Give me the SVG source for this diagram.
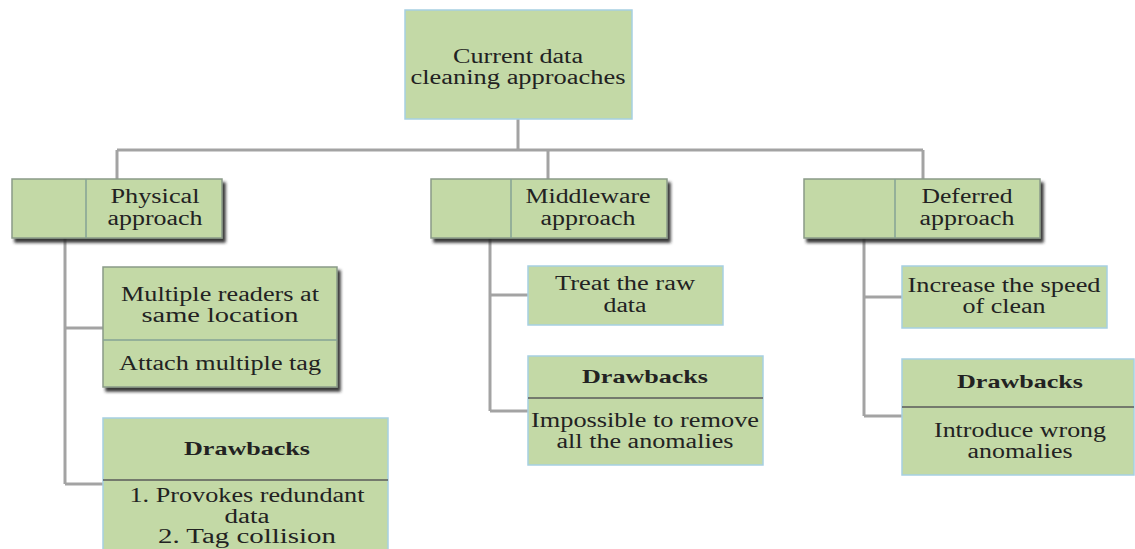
<svg xmlns="http://www.w3.org/2000/svg" width="1135" height="549" viewBox="0 0 1135 549">
<defs>
<filter id="sh" x="-10%" y="-10%" width="130%" height="140%">
<feDropShadow dx="3" dy="4" stdDeviation="1.8" flood-color="#222" flood-opacity="0.9"/>
</filter>
<style>
.box{fill:#c3d9a6;stroke:#a6d0e2;stroke-width:1.5}
.sbox{fill:#c3d9a6;stroke:#8a9a88;stroke-width:1.5;filter:url(#sh)}
.div{stroke:#5a5a5a;stroke-width:1.5}
.vdiv{stroke:#84a294;stroke-width:1.5}
.con{stroke:#a3a3a3;stroke-width:3;fill:none}
text{font-family:"Liberation Serif","Times New Roman",serif;font-size:20px;fill:#222;text-anchor:middle}
.b{font-weight:bold;font-size:19px}
</style>
</defs>
<rect width="1135" height="549" fill="#fff"/>
<g id="connectors">
<path class="con" d="M518,119 V150 M117,150 H923 M117,150 V179 M548,150 V179 M923,150 V179"/>
<path class="con" d="M65,238 V484 M65,328 H103 M65,484 H103"/>
<path class="con" d="M490,238 V411 M490,295 H528 M490,411 H528"/>
<path class="con" d="M864,238 V416 M864,297 H902 M864,416 H902"/>
</g>
<g id="root">
<rect class="box" x="405" y="10" width="227" height="109"/>
<text x="518" y="63" textLength="130" lengthAdjust="spacingAndGlyphs">Current data</text>
<text x="518" y="84" textLength="215" lengthAdjust="spacingAndGlyphs">cleaning approaches</text>
</g>
<g id="physical">
<rect class="sbox" x="12" y="179" width="210" height="59"/>
<line class="vdiv" x1="86" y1="179" x2="86" y2="238"/>
<text x="155" y="203" textLength="89" lengthAdjust="spacingAndGlyphs">Physical</text>
<text x="155" y="225" textLength="95" lengthAdjust="spacingAndGlyphs">approach</text>
</g>
<g id="middleware">
<rect class="sbox" x="431" y="179" width="236" height="59"/>
<line class="vdiv" x1="511" y1="179" x2="511" y2="238"/>
<text x="588" y="203" textLength="125" lengthAdjust="spacingAndGlyphs">Middleware</text>
<text x="588" y="225" textLength="95" lengthAdjust="spacingAndGlyphs">approach</text>
</g>
<g id="deferred">
<rect class="sbox" x="804" y="179" width="236" height="59"/>
<line class="vdiv" x1="895" y1="179" x2="895" y2="238"/>
<text x="967" y="203" textLength="91" lengthAdjust="spacingAndGlyphs">Deferred</text>
<text x="967" y="225" textLength="95" lengthAdjust="spacingAndGlyphs">approach</text>
</g>
<g id="physical-methods">
<rect class="sbox" x="103" y="267" width="234" height="120"/>
<line class="vdiv" x1="103" y1="340" x2="337" y2="340"/>
<text x="220" y="301" textLength="198" lengthAdjust="spacingAndGlyphs">Multiple readers at</text>
<text x="220" y="322" textLength="157" lengthAdjust="spacingAndGlyphs">same location</text>
<text x="220" y="370" textLength="202" lengthAdjust="spacingAndGlyphs">Attach multiple tag</text>
</g>
<g id="physical-drawbacks">
<rect class="box" x="103" y="418" width="285" height="140"/>
<line class="div" x1="103" y1="480" x2="388" y2="480"/>
<text class="b" x="247" y="455" textLength="126" lengthAdjust="spacingAndGlyphs">Drawbacks</text>
<text x="247" y="502" textLength="235" lengthAdjust="spacingAndGlyphs">1. Provokes redundant</text>
<text x="247" y="523" textLength="45" lengthAdjust="spacingAndGlyphs">data</text>
<text x="247" y="543" textLength="178" lengthAdjust="spacingAndGlyphs">2. Tag collision</text>
</g>
<g id="middleware-method">
<rect class="box" x="528" y="266" width="195" height="59"/>
<text x="625" y="290" textLength="140" lengthAdjust="spacingAndGlyphs">Treat the raw</text>
<text x="625" y="312" textLength="43" lengthAdjust="spacingAndGlyphs">data</text>
</g>
<g id="middleware-drawbacks">
<rect class="box" x="528" y="356" width="235" height="109"/>
<line class="div" x1="528" y1="398" x2="763" y2="398"/>
<text class="b" x="645" y="383" textLength="126" lengthAdjust="spacingAndGlyphs">Drawbacks</text>
<text x="645" y="427" textLength="228" lengthAdjust="spacingAndGlyphs">Impossible to remove</text>
<text x="645" y="448" textLength="177" lengthAdjust="spacingAndGlyphs">all the anomalies</text>
</g>
<g id="deferred-method">
<rect class="box" x="902" y="266" width="205" height="62"/>
<text x="1004" y="292" textLength="193" lengthAdjust="spacingAndGlyphs">Increase the speed</text>
<text x="1004" y="313" textLength="83" lengthAdjust="spacingAndGlyphs">of clean</text>
</g>
<g id="deferred-drawbacks">
<rect class="box" x="902" y="359" width="232" height="116"/>
<line class="div" x1="902" y1="407" x2="1134" y2="407"/>
<text class="b" x="1020" y="388" textLength="126" lengthAdjust="spacingAndGlyphs">Drawbacks</text>
<text x="1020" y="437" textLength="172" lengthAdjust="spacingAndGlyphs">Introduce wrong</text>
<text x="1020" y="458" textLength="105" lengthAdjust="spacingAndGlyphs">anomalies</text>
</g>
</svg>
